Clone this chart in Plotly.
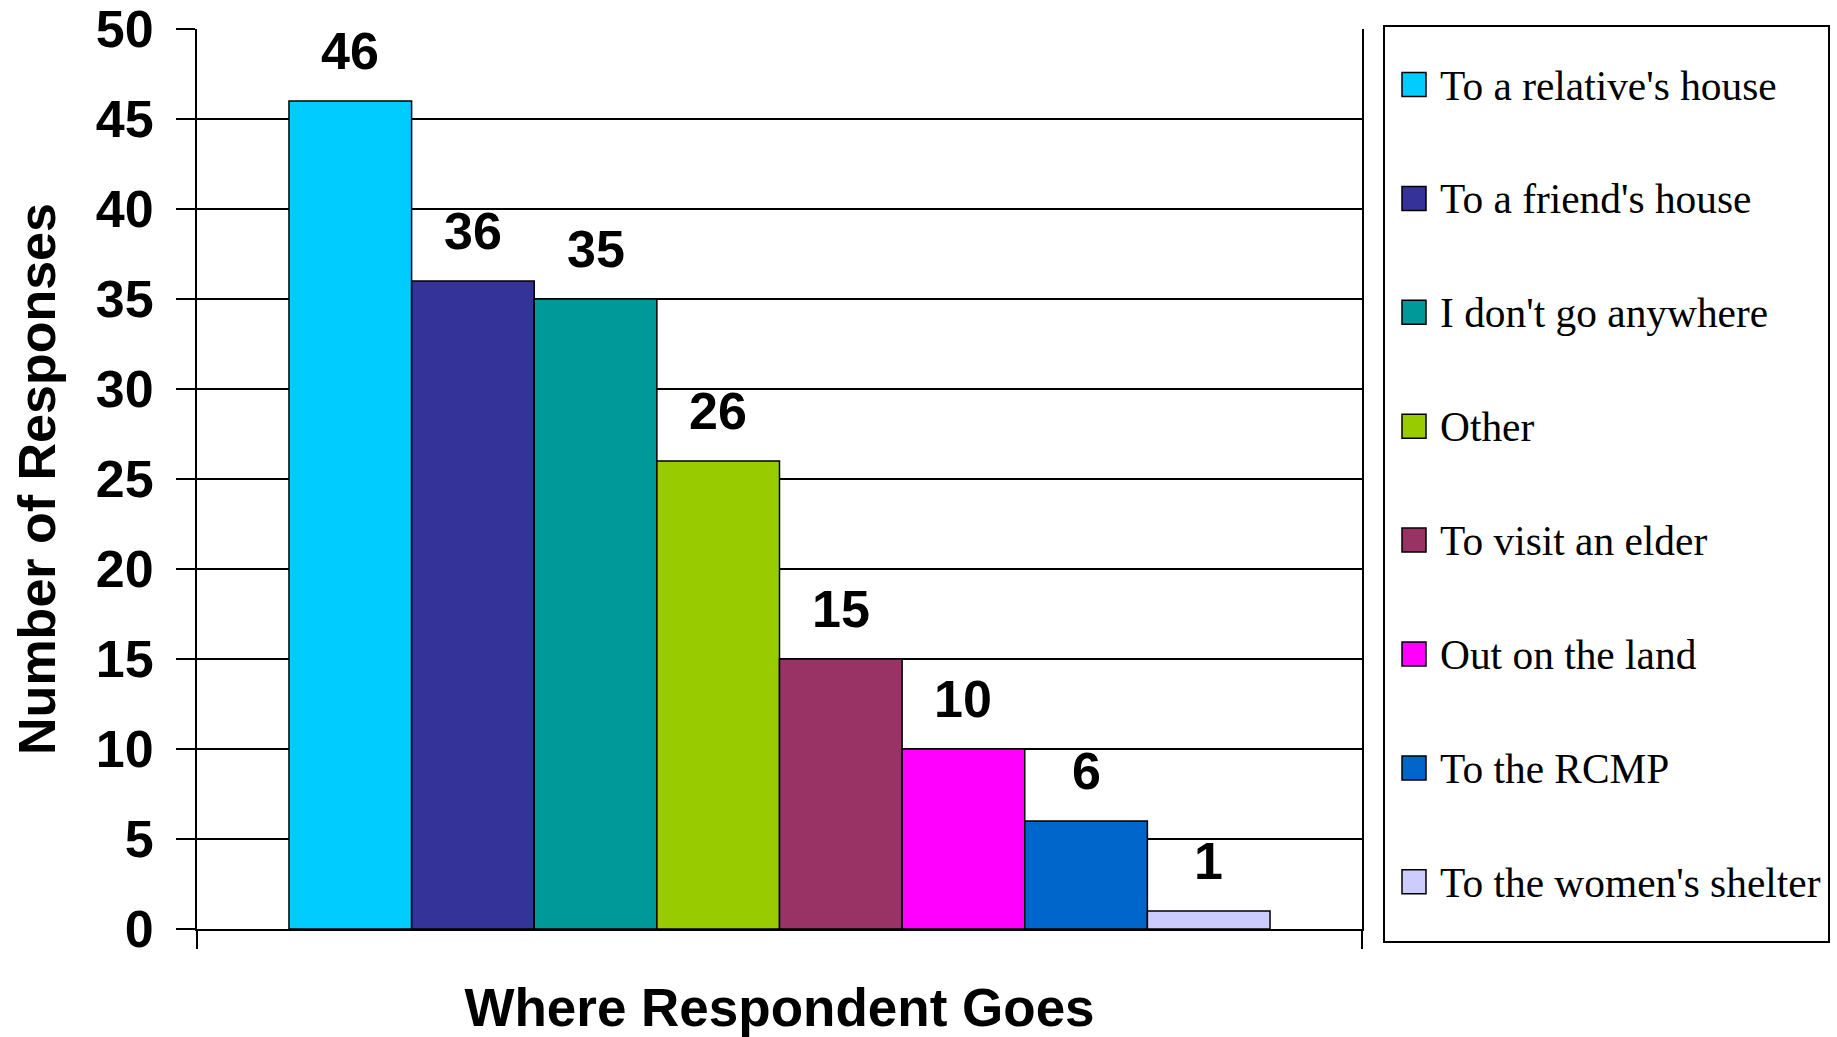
import plotly.graph_objects as go

# Survey responses: where the respondent goes
destinations = [
    "To a relative's house",
    "To a friend's house",
    "I don't go anywhere",
    "Other",
    "To visit an elder",
    "Out on the land",
    "To the RCMP",
    "To the women's shelter",
]
responses = [46, 36, 35, 26, 15, 10, 6, 1]
bar_colors = ["#00CCFF", "#333399", "#009999", "#99CC00",
              "#993366", "#FF00FF", "#0066CC", "#CCCCFF"]
y_tick_values = [0, 5, 10, 15, 20, 25, 30, 35, 40, 45, 50]

# Canvas and plot-area geometry (pixels)
W, H = 1837, 1037
ML, MR, MT, MB = 197, 475, 29, 108
PW = W - ML - MR
PH = H - MT - MB

SANS = "Liberation Sans, Arial, sans-serif"
SERIF = "Liberation Serif, Times New Roman, serif"


def paper_x(px):
    return (px - ML) / PW


def paper_y(py):
    return (H - MB - py) / PH


positions = list(range(len(responses)))
gap = 0.75  # half of the 150% gap width, in bar units
x_range = [-0.5 - gap, len(responses) - 0.5 + gap]

fig = go.Figure()
fig.add_trace(go.Bar(
    x=positions,
    y=responses,
    width=1,
    marker=dict(color=bar_colors, line=dict(color="black", width=1.5)),
    hovertext=destinations,
    showlegend=False,
))

annotations = []
# value labels above the bars
for xpos, val in zip(positions, responses):
    annotations.append(dict(
        x=xpos, y=val, xref="x", yref="y",
        text=str(val), showarrow=False,
        xanchor="center", yanchor="bottom", yshift=19,
        font=dict(family=SANS, size=52, color="black", weight="bold"),
    ))

shapes = []
# legend box
LX0, LX1, LY0, LY1 = 1384, 1829, 26, 942
shapes.append(dict(
    type="rect", xref="paper", yref="paper",
    x0=paper_x(LX0), x1=paper_x(LX1), y0=paper_y(LY1), y1=paper_y(LY0),
    line=dict(color="black", width=2), fillcolor="white", layer="below",
))
ITEM_Y0, ITEM_STEP = 84.5, 113.9
SW = 24
for k, (name, col) in enumerate(zip(destinations, bar_colors)):
    cy = ITEM_Y0 + k * ITEM_STEP
    shapes.append(dict(
        type="rect", xref="paper", yref="paper",
        x0=paper_x(1402), x1=paper_x(1402 + SW),
        y0=paper_y(cy + SW / 2), y1=paper_y(cy - SW / 2),
        line=dict(color="black", width=1.5), fillcolor=col,
    ))
    annotations.append(dict(
        x=paper_x(1438), y=paper_y(cy + 1), xref="paper", yref="paper",
        text=name, showarrow=False, xanchor="left", yanchor="middle",
        font=dict(family=SERIF, size=41.4, color="black"),
    ))

fig.update_layout(
    width=W, height=H,
    margin=dict(l=ML, r=MR, t=MT, b=MB, autoexpand=False),
    paper_bgcolor="white", plot_bgcolor="white",
    showlegend=False,
    annotations=annotations,
    shapes=shapes,
    xaxis=dict(
        range=x_range,
        tickmode="array", tickvals=x_range, showticklabels=False,
        ticks="outside", ticklen=18, tickwidth=2, tickcolor="black",
        showline=True, linecolor="black", linewidth=2,
        showgrid=False, zeroline=False,
        title=dict(text="Where Respondent Goes", standoff=47,
                   font=dict(family=SANS, size=53, color="black", weight="bold")),
    ),
    yaxis=dict(
        range=[0, 50],
        tickmode="array", tickvals=y_tick_values,
        ticks="outside", ticklen=19, tickwidth=2, tickcolor="black",
        ticklabelstandoff=12,
        tickfont=dict(family=SANS, size=52, color="black", weight="bold"),
        showline=True, linecolor="black", linewidth=2, mirror=True,
        showgrid=True, gridcolor="black", gridwidth=2,
        zeroline=False,
        title=dict(text="Number of Responses", standoff=24,
                   font=dict(family=SANS, size=52, color="black", weight="bold")),
    ),
)

fig.write_html("out.html")
